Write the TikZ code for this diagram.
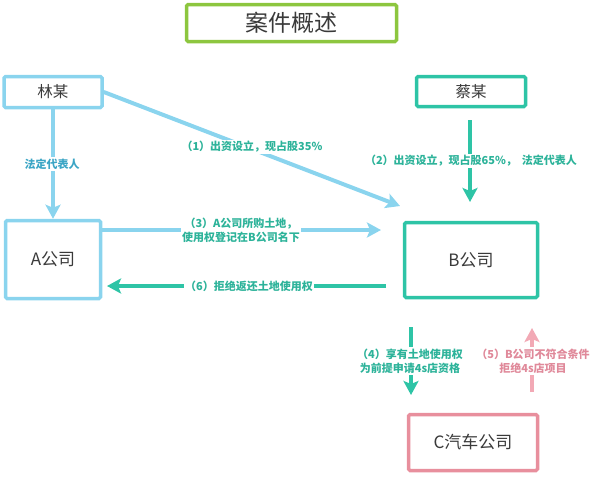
\documentclass[tikz,border=0pt]{standalone}
\usepackage{fontspec}
\setmainfont{Noto Sans CJK SC}
\usetikzlibrary{arrows.meta}
\definecolor{lblue}{HTML}{8AD4EE}
\definecolor{tealc}{HTML}{2EC4A6}
\definecolor{tealtxt}{HTML}{2DB39A}
\definecolor{bluetxt}{HTML}{3BA5C5}
\definecolor{pinkc}{HTML}{E88F9D}
\definecolor{pinka}{HTML}{F2A9B5}
\definecolor{pinktxt}{HTML}{E0899A}
\definecolor{greenc}{HTML}{8DC63F}
\definecolor{boxtxt}{HTML}{3A3A3A}
\begin{document}
\begin{tikzpicture}[x=1pt,y=-1pt,
  box/.style={draw, line width=3.5pt, rounded corners=1.5pt, fill=white, text=boxtxt,
    inner sep=0pt, font=\fontsize{17}{20}\selectfont},
  lbl/.style={fill=white, font=\bfseries\fontsize{11}{14}\selectfont, text=tealtxt,
    inner sep=1.5pt, align=center},
  arr/.style={line width=4pt, -{Stealth[length=14pt,width=15pt,inset=3pt]}}
]
\useasboundingbox (0,0) rectangle (600,477);

% boxes
\node[box, draw=greenc, minimum width=210pt, minimum height=37pt,
  font=\fontsize{23}{26}\selectfont] (title) at (291.5,23) {案件概述};
\node[box, draw=lblue, minimum width=98pt, minimum height=31pt,
  font=\fontsize{15.5}{18}\selectfont] (lin) at (53,92) {林某};
\node[box, draw=tealc, minimum width=109pt, minimum height=30pt,
  font=\fontsize{15.5}{18}\selectfont] (cai) at (471,91.5) {蔡某};
\node[box, draw=lblue, minimum width=95pt, minimum height=78pt] (A) at (53,259.5) {A公司};
\node[box, draw=tealc, minimum width=133pt, minimum height=75pt] (B) at (471,260) {B公司};
\node[box, draw=pinkc, minimum width=129pt, minimum height=56pt] (C) at (473,442.5) {C汽车公司};

% free ends
\coordinate (b1) at (400,206);
\coordinate (c1) at (470,120);
\coordinate (c2) at (470,202);
\coordinate (b3) at (381,230);
\coordinate (b6) at (386,286);
\coordinate (a6) at (107,286);
\coordinate (d1) at (411,327);
\coordinate (d2) at (411,395);
\coordinate (e1) at (532,392);
\coordinate (e2) at (532,328);

% connectors
\draw[arr, lblue] (lin.south) -- (A.north);
\draw[arr, lblue] (lin.east) -- (b1);
\draw[arr, tealc] (c1) -- (c2);
\draw[arr, lblue] ([yshift=29.5pt]A.east) -- (b3);
\draw[arr, tealc] (b6) -- (a6);
\draw[arr, tealc, line width=4.5pt] (d1) -- (d2);
\draw[arr, pinka, line width=4.5pt] (e1) -- (e2);

% labels
\node[lbl, text=bluetxt] (l0) at (52,164) {法定代表人};
\node[lbl] (l1) at (252,147) {（1）出资设立，现占股35\%};
\node[lbl] (l2) at (471,161) {（2）出资设立，现占股65\%，\ \ 法定代表人};
\node[lbl] (l3) at (241,230.5) {（3）A公司所购土地，\\使用权登记在B公司名下};
\node[lbl] (l6) at (249,286) {（6）拒绝返还土地使用权};
\node[lbl] (l4) at (410,361) {（4）享有土地使用权\\为前提申请4s店资格};
\node[lbl, text=pinktxt] (l5) at (533,361) {（5）B公司不符合条件\\拒绝4s店项目};
\end{tikzpicture}
\end{document}
